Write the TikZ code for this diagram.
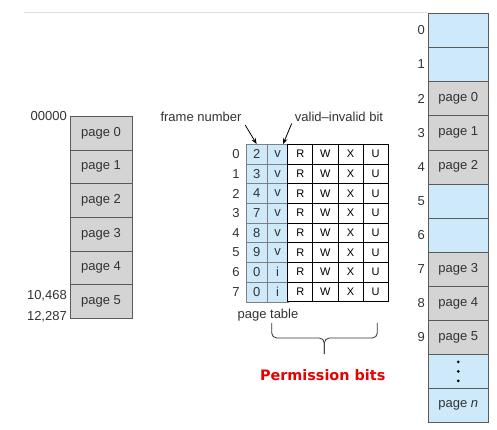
\documentclass[tikz,border=0pt]{standalone}
\usepackage{fontspec}
\setmainfont{Liberation Sans}
\newfontfamily\permfont{DejaVu Sans}
\usetikzlibrary{arrows.meta, positioning}
\definecolor{frameblue}{RGB}{206,233,249}
\definecolor{pagegray}{RGB}{212,212,212}
\definecolor{edgegray}{RGB}{90,90,90}
\definecolor{textgray}{RGB}{50,50,50}
\definecolor{permred}{RGB}{232,0,0}
\tikzstyle{logpage} = [draw=edgegray, fill=pagegray, minimum width=62pt, minimum height=33.7pt, inner sep=0pt, text=textgray]
\tikzstyle{physframe} = [draw=edgegray, minimum width=60pt, minimum height=34.1pt, inner sep=0pt, text=textgray]
\tikzstyle{ptentry} = [draw=gray, fill=frameblue, minimum width=20.7pt, minimum height=19.7pt, inner sep=0pt, text=textgray]
\tikzstyle{permcell} = [draw=black, line width=0.8pt, fill=white, minimum width=25.15pt, minimum height=19.7pt, inner sep=0pt, font=\fontsize{11}{13}\selectfont]
\tikzstyle{tag} = [text=textgray, inner sep=0pt]
\tikzstyle{ptr} = [-{Stealth[length=6pt,width=4.5pt]}, line width=0.8pt]

\begin{document}
\begin{tikzpicture}[x=1pt, y=-1pt, font=\fontsize{13}{15}\selectfont]
  \useasboundingbox (0,0) rectangle (497,429);
  \draw[black!12] (24,12.3) -- (428,12.3);

  % logical memory
  \node[logpage] (p0) at (101,132.85) {page 0};
  \node[logpage] (p1) at (101,166.55) {page 1};
  \node[logpage] (p2) at (101,200.25) {page 2};
  \node[logpage] (p3) at (101,233.95) {page 3};
  \node[logpage] (p4) at (101,267.65) {page 4};
  \node[logpage] (p5) at (101,301.35) {page 5};
  \node[tag, anchor=east] (a0) at (67,116) {00000};
  \node[tag, anchor=east] (a1) at (67,296) {10,468};
  \node[tag, anchor=east] (a2) at (67,317) {12,287};

  % page table
  \foreach \f/\v [count=\i from 0] in {2/v,3/v,4/v,7/v,8/v,9/v,0/i,0/i} {
    \node[tag] (ix\i) at (236,{154.14+19.675*\i}) {\i};
    \node[ptentry] (f\i) at (256.65,{154.14+19.675*\i}) {\f};
    \node[ptentry] (v\i) at (277.5,{154.14+19.675*\i}) {\v};
    \node[permcell] (r\i) at (300.3,{154.14+19.675*\i}) {R};
    \node[permcell] (w\i) at (325.4,{154.14+19.675*\i}) {W};
    \node[permcell] (x\i) at (350.6,{154.14+19.675*\i}) {X};
    \node[permcell] (u\i) at (375.7,{154.14+19.675*\i}) {U};
  }
  \node[tag] (fn) at (201,117) {frame number};
  \node[tag] (vb) at (339,117) {valid--invalid bit};
  \node[tag] (pt) at (268,315) {page table};
  \draw[ptr] ([xshift=3.5pt,yshift=-3pt]fn.south east) -- (f0.north);
  \draw[ptr] ([xshift=-3pt,yshift=-1.5pt]vb.south west) -- ([xshift=-5pt]v0.north east);

  % permission brace
  \coordinate (braceL) at (271.7,323);
  \coordinate (braceR) at (377.3,323);
  \coordinate (braceT) at (324.3,354);
  \draw[textgray, line width=0.8pt, rounded corners=5pt] (braceL) -- (271.7,338) -- (324.3,338) -- (braceT);
  \draw[textgray, line width=0.8pt, rounded corners=5pt] (braceR) -- (377.3,338) -- (324.3,338) -- (braceT);
  \node[text=permred, font=\permfont\bfseries\fontsize{14.4}{16}\selectfont] (perm) at (322.7,375) {Permission bits};

  % physical memory
  \node[physframe, fill=frameblue] (m0) at (458.3,30.35) {};
  \node[physframe, fill=frameblue] (m1) at (458.3,64.45) {};
  \node[physframe, fill=pagegray] (m2) at (458.3,98.55) {page 0};
  \node[physframe, fill=pagegray] (m3) at (458.3,132.65) {page 1};
  \node[physframe, fill=pagegray] (m4) at (458.3,166.75) {page 2};
  \node[physframe, fill=frameblue] (m5) at (458.3,200.85) {};
  \node[physframe, fill=frameblue] (m6) at (458.3,234.95) {};
  \node[physframe, fill=pagegray] (m7) at (458.3,269.05) {page 3};
  \node[physframe, fill=pagegray] (m8) at (458.3,303.15) {page 4};
  \node[physframe, fill=pagegray] (m9) at (458.3,337.25) {page 5};
  \node[physframe, fill=frameblue] (m10) at (458.3,371.35) {};
  \node[physframe, fill=frameblue] (m11) at (458.3,405.45) {page \textit{n}};
  \foreach \d in {-9.5,0,9.5}
    \fill[black] ([yshift=\d pt]m10.center) circle (1.5pt);
  \foreach \i in {0,...,9}
    \node[tag, anchor=east] (n\i) at (425,{30.35+34.1*\i}) {\i};
\end{tikzpicture}
\end{document}
